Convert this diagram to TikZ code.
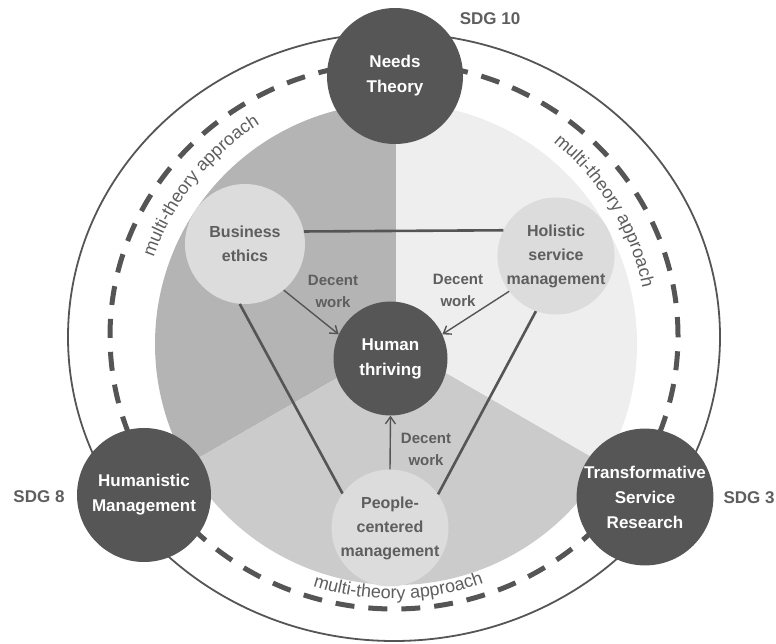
\documentclass[tikz,border=0pt]{standalone}
\usepackage{fontspec}
\setmainfont{Liberation Sans}
\usetikzlibrary{arrows.meta,decorations.text}
\definecolor{darkc}{HTML}{565656}
\definecolor{lightc}{HTML}{DCDCDC}
\definecolor{txtc}{HTML}{5E5E5E}
\definecolor{secA}{HTML}{B4B4B4}
\definecolor{secB}{HTML}{EEEEEE}
\definecolor{secC}{HTML}{CBCBCB}
\definecolor{linec}{HTML}{555555}
\newcommand{\mtfont}{\fontsize{18}{18}\selectfont}
\begin{document}
\begin{tikzpicture}[x=1pt,y=1pt,
  darknode/.style={circle, fill=darkc, text=white, font=\fontsize{17}{25}\selectfont\bfseries, align=center, inner sep=0pt},
  lightnode/.style={circle, fill=lightc, text=txtc, font=\fontsize{16}{24}\selectfont\bfseries, align=center, inner sep=0pt},
  dwlabel/.style={text=txtc, font=\fontsize{15}{22}\selectfont\bfseries, align=center, inner sep=0pt},
  sdglabel/.style={text=txtc, font=\fontsize{17}{20}\selectfont\bfseries, inner sep=0pt},
  conn/.style={draw=linec, line width=2.6pt},
  arr/.style={draw=linec, line width=1.4pt, -{Straight Barb[length=7pt,width=10pt]}},
  mtpath/.style={decorate, decoration={text along path, text={|\mtfont|multi-theory approach}, text align=center, text color=txtc}}
]
\useasboundingbox (0,0) rectangle (776,643);
% rings
\draw[linec, line width=1.8pt] (394,306) ellipse[x radius=326, y radius=304];
\draw[linec, line width=5pt, dash pattern=on 19pt off 14pt] (394,307) ellipse[x radius=284, y radius=273];
% pie sectors
\fill[secA] (396,299) -- ++(90:241) arc[start angle=90, end angle=210, radius=241] -- cycle;
\fill[secC] (396,299) -- ++(210:241) arc[start angle=210, end angle=330, radius=241] -- cycle;
\fill[secB] (396,299) -- ++(330:241) arc[start angle=330, end angle=450, radius=241] -- cycle;
% multi-theory labels
\path[mtpath] (394,303) ++(170:254) arc[start angle=170, end angle=113, radius=254];
\path[mtpath] (394,303) ++(60:254) arc[start angle=60, end angle=3, radius=254];
\path[mtpath] (394,303) ++(241:259) arc[start angle=241, end angle=301, radius=259];
% light nodes
\node[lightnode, minimum size=120pt] (be) at (245,399) {Business\\ethics};
\node[lightnode, minimum size=114pt] (hs) at (556,387) {Holistic\\service\\management};
\node[lightnode, minimum size=114pt] (pc) at (390,115) {People-\\centered\\management};
% central node
\node[darknode, minimum size=114pt] (ht) at (390.5,284.5) {Human\\thriving};
% outer dark nodes
\node[darknode, minimum size=136pt] (nt) at (395,567) {Needs\\Theory};
\node[darknode, minimum size=134pt] (hm) at (144,148) {Humanistic\\Management};
\node[darknode, minimum size=136pt] (tsr) at (645,146) {Transformative\\Service\\Research};
% connectors
\draw[conn] (be.12.5) -- (hs.154);
\draw[conn] (be.265) -- (pc.144);
\draw[conn] (hs.250) -- (pc.35);
\draw[arr] (be.-50) -- (ht.155);
\draw[arr] (hs.217) -- (ht.25);
\draw[arr] (pc.90) -- (ht.-90);
% labels
\node[dwlabel] (dw1) at (333,352) {Decent\\work};
\node[dwlabel] (dw2) at (458,353) {Decent\\work};
\node[dwlabel] (dw3) at (426,194) {Decent\\work};
\node[sdglabel] (sdg10) at (490,624) {SDG 10};
\node[sdglabel] (sdg8) at (39,146) {SDG 8};
\node[sdglabel] (sdg3) at (749,145) {SDG 3};
\end{tikzpicture}
\end{document}
